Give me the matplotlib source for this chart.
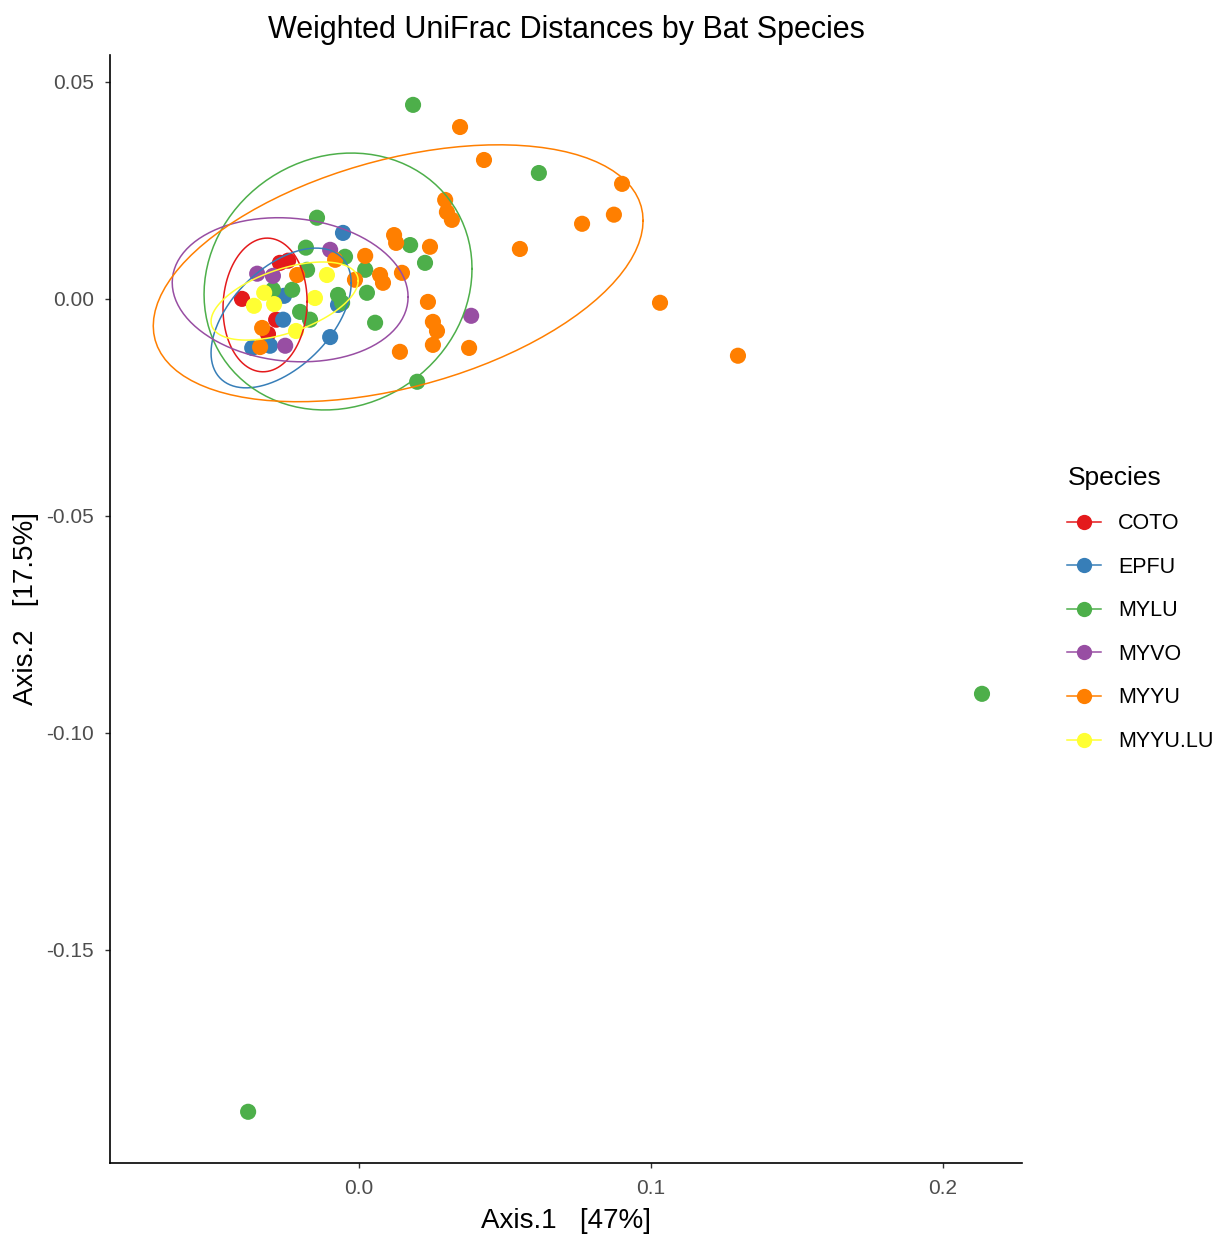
import matplotlib
matplotlib.use("Agg")
import matplotlib.pyplot as plt
from matplotlib.lines import Line2D
import numpy as np

plt.rcParams["font.family"] = ["Liberation Sans", "DejaVu Sans"]

# PCoA coordinates (Axis.1, Axis.2) for each species
species = ["COTO", "EPFU", "MYLU", "MYVO", "MYYU", "MYYU.LU"]
colors = ["#E41A1C", "#377EB8", "#4DAF4A", "#984EA3", "#FF7F00", "#FFFF33"]

coto_x = [-0.0401, -0.0271, -0.0243, -0.0284, -0.0312]
coto_y = [0.0000, 0.0083, 0.0088, -0.0048, -0.0081]

epfu_x = [-0.0055, -0.0099, -0.0072, -0.0366, -0.0305, -0.0257, -0.0260]
epfu_y = [0.0152, -0.0088, -0.0014, -0.0113, -0.0108, 0.0007, -0.0048]

mylu_x = [0.0185, 0.0616, 0.2134, -0.0380, 0.0199, -0.0144, -0.0182, -0.0048,
          0.0021, -0.0178, -0.0295, -0.0229, -0.0202, -0.0168, -0.0072, -0.0058,
          0.0027, 0.0055, 0.0175, 0.0226]
mylu_y = [0.0447, 0.0290, -0.0910, -0.1873, -0.0191, 0.0187, 0.0118, 0.0097,
          0.0067, 0.0067, 0.0021, 0.0021, -0.0030, -0.0048, 0.0009, -0.0009,
          0.0014, -0.0055, 0.0124, 0.0083]

myvo_x = [0.0384, -0.0099, -0.0349, -0.0295, -0.0253]
myvo_y = [-0.0039, 0.0113, 0.0058, 0.0053, -0.0108]

myyu_x = [0.0346, 0.0428, 0.0901, 0.0873, 0.0764, 0.0551, 0.0295, 0.0301,
          0.0318, 0.0243, 0.0120, 0.0127, 0.1031, 0.1298, 0.0236, 0.0253,
          0.0267, 0.0253, 0.0377, 0.0140, 0.0147, 0.0072, 0.0082, 0.0021,
          -0.0082, -0.0014, -0.0212, -0.0332, -0.0339]
myyu_y = [0.0396, 0.0320, 0.0265, 0.0194, 0.0173, 0.0115, 0.0228, 0.0200,
          0.0182, 0.0120, 0.0147, 0.0129, -0.0009, -0.0131, -0.0007, -0.0053,
          -0.0074, -0.0106, -0.0113, -0.0122, 0.0060, 0.0055, 0.0037, 0.0099,
          0.0090, 0.0044, 0.0055, -0.0067, -0.0111]

myyulu_x = [-0.0110, -0.0151, -0.0360, -0.0291, -0.0216, -0.0325]
myyulu_y = [0.0055, 0.0002, -0.0016, -0.0012, -0.0074, 0.0014]

xs = [coto_x, epfu_x, mylu_x, myvo_x, myyu_x, myyulu_x]
ys = [coto_y, epfu_y, mylu_y, myvo_y, myyu_y, myyulu_y]

# 95% ellipse per species: centre, half-extent along each axis, correlation
ell_cx = [-0.0322, -0.0267, -0.0072, -0.0236, 0.0134, -0.0255]
ell_cy = [-0.0014, -0.0044, 0.0040, 0.0021, 0.0059, -0.0005]
ell_ax = [0.0144, 0.0240, 0.0459, 0.0404, 0.0839, 0.0252]
ell_ay = [0.0154, 0.0161, 0.0296, 0.0166, 0.0296, 0.0090]
ell_r = [0.05, 0.50, 0.10, -0.10, 0.41, 0.52]


def ellipse_path(cx, cy, ax_, ay_, r, segments=101):
    t = np.linspace(0, 2 * np.pi, segments)
    phi = np.arccos(r)
    return cx + ax_ * np.cos(t), cy + ay_ * np.cos(t - phi)


fig = plt.figure(figsize=(12.2, 12.35), dpi=100)
ax = fig.add_axes([0.0902, 0.0583, 0.7475, 0.8972])

for x, y, c in zip(xs, ys, colors):
    ax.scatter(x, y, s=135, color=c, edgecolors="none", zorder=2)
for i, c in enumerate(colors):
    ex, ey = ellipse_path(ell_cx[i], ell_cy[i], ell_ax[i], ell_ay[i], ell_r[i])
    ax.plot(ex, ey, color=c, lw=1.1, zorder=3)

ax.set_xlim(-0.0853, 0.2271)
ax.set_ylim(-0.1991, 0.0562)
ax.set_xticks([0.0, 0.1, 0.2])
ax.set_xticklabels(["0.0", "0.1", "0.2"])
ax.set_yticks([0.05, 0.0, -0.05, -0.10, -0.15])
ax.set_yticklabels(["0.05", "0.00", "-0.05", "-0.10", "-0.15"])
ax.tick_params(labelsize=15, labelcolor="#4D4D4D", color="#333333",
               length=3.6, width=1, pad=8)
for side in ["top", "right"]:
    ax.spines[side].set_visible(False)
for side in ["left", "bottom"]:
    ax.spines[side].set_linewidth(1.2)

ax.set_xlabel("Axis.1   [47%]", fontsize=20, labelpad=7)
ax.set_ylabel("Axis.2   [17.5%]", fontsize=20, labelpad=5)
ax.set_title("Weighted UniFrac Distances by Bat Species", fontsize=22, pad=12)

handles = [Line2D([0], [0], color=c, lw=1.1, marker="o", markersize=11,
                  markeredgewidth=0) for c in colors]
fig.legend(handles, species, title="Species", loc="upper left",
           bbox_to_anchor=(0.859, 0.638), frameon=False, fontsize=15.5,
           title_fontsize=19, handlelength=1.55, handletextpad=0.8,
           labelspacing=1.05, alignment="left")

fig.savefig("out.png", dpi=100)
